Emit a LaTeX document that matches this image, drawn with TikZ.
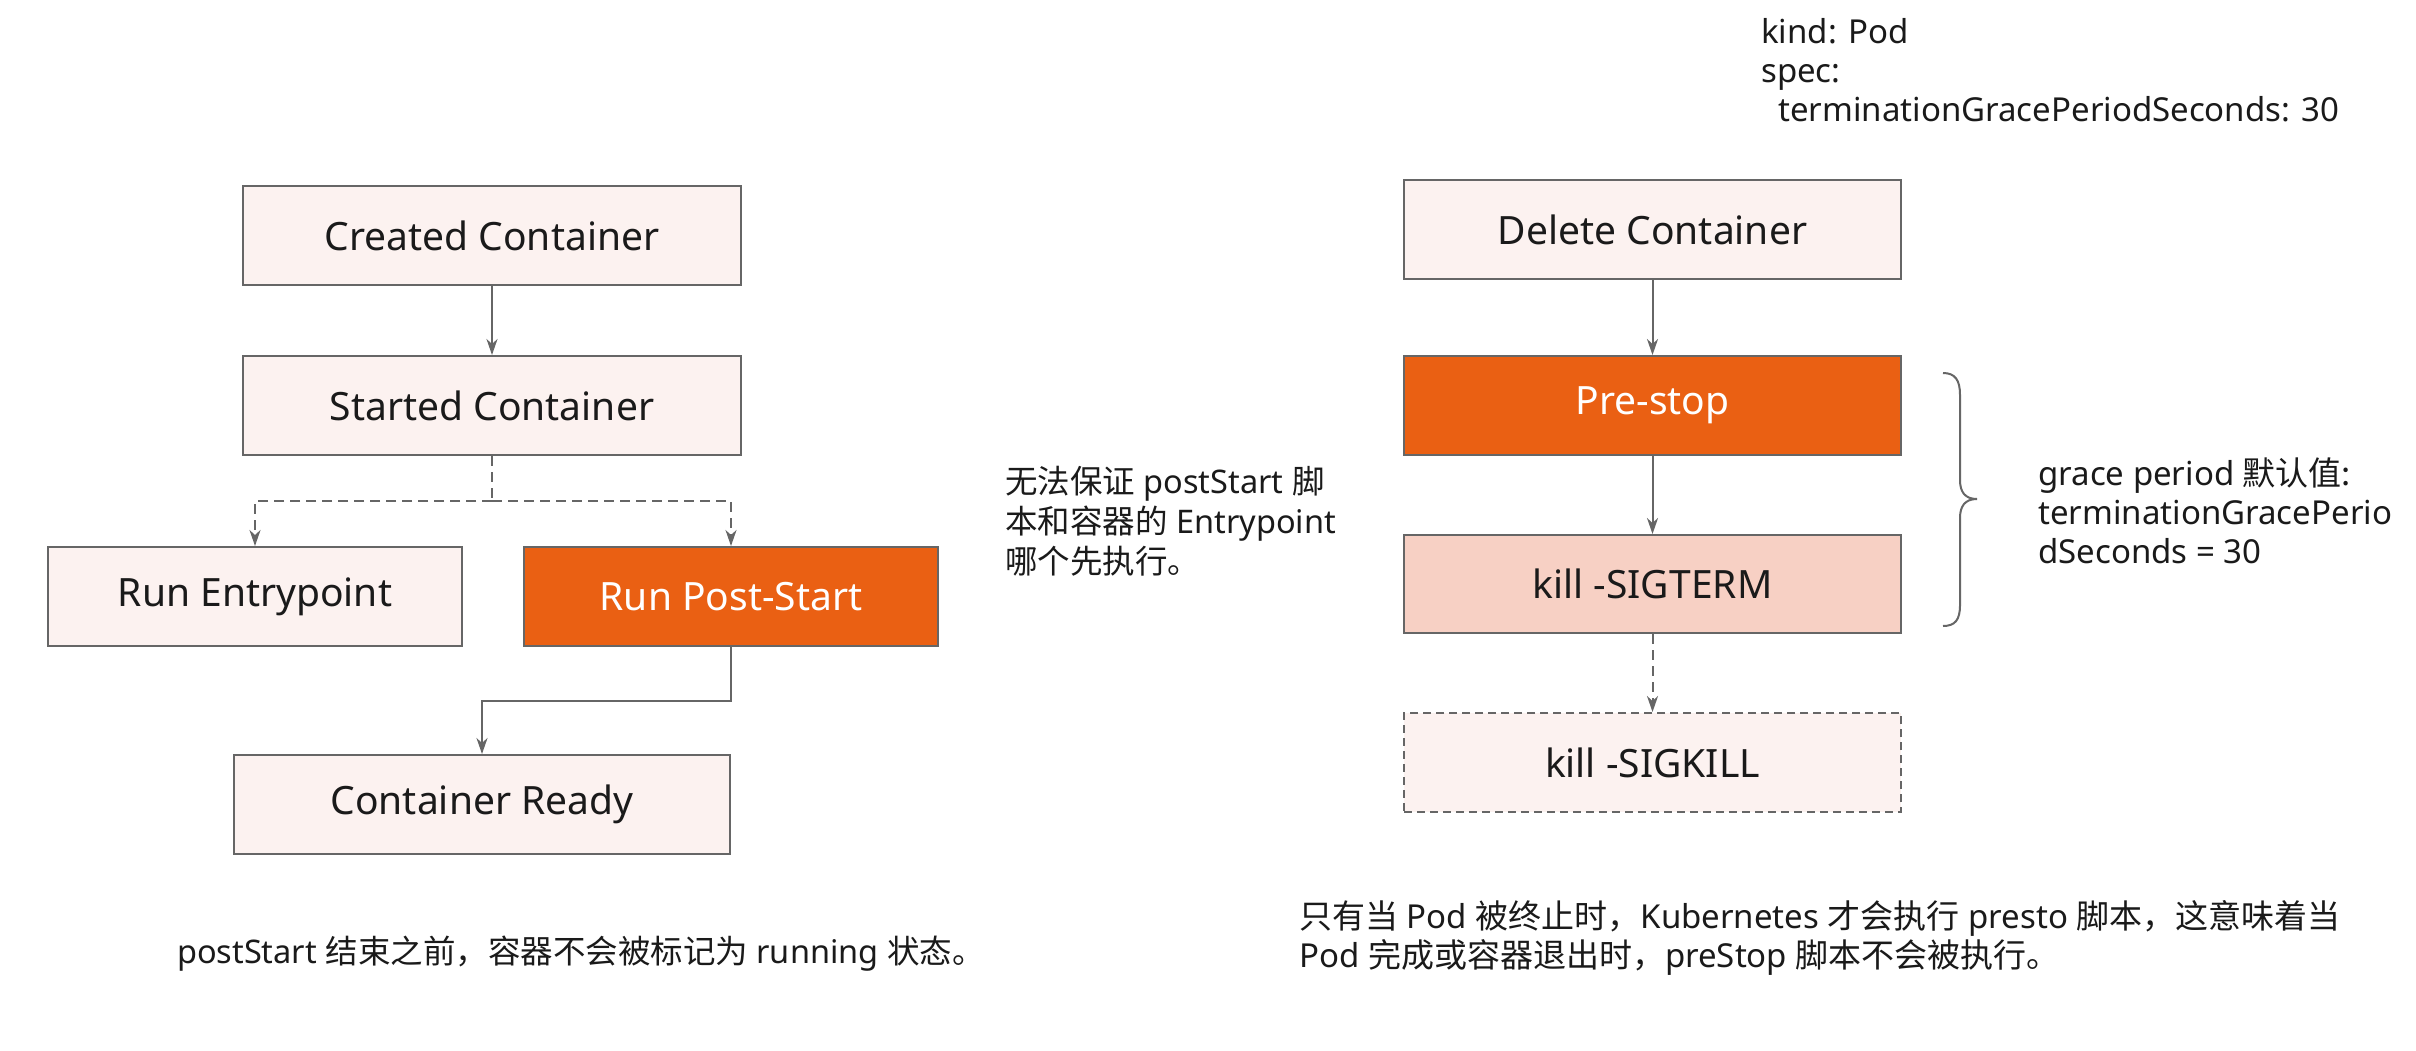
\documentclass[tikz,border=0pt]{standalone}
\usepackage{fontspec}
\setmainfont{Noto Sans}
\newfontfamily\cjk{Noto Sans CJK SC}
\usetikzlibrary{arrows.meta}
\newcommand\zh[1]{{\cjk #1}}
\definecolor{boxfill}{RGB}{252,242,240}
\definecolor{orangefill}{RGB}{234,96,19}
\definecolor{salmon}{RGB}{247,208,196}
\definecolor{edge}{RGB}{102,102,102}
\definecolor{txt}{RGB}{26,26,26}
\begin{document}
\begin{tikzpicture}[x=1pt,y=-1pt,
 box/.style={draw=edge, line width=2pt, fill=boxfill, minimum height=99pt, inner sep=0pt, font=\fontsize{39}{45}\selectfont, text=txt},
 hot/.style={box, fill=orangefill, text=white},
 conn/.style={draw=edge, line width=2pt, -{Stealth[length=16pt,width=11pt,inset=5pt]}},
 dashconn/.style={conn, dash pattern=on 10pt off 6pt},
 note/.style={font=\fontsize{32.5}{40}\selectfont, text=txt, align=left, inner sep=0pt, anchor=west}
]
\useasboundingbox (0,0) rectangle (2416,1050);
\fill[white] (0,0) rectangle (2416,1050);

% left flow
\node[box, minimum width=498pt] (created) at (492,235.5) {Created Container};
\node[box, minimum width=498pt] (started) at (492,405.5) {Started Container};
\node[box, minimum width=414pt] (entry) at (255,596.5) {Run Entrypoint};
\node[hot, minimum width=414pt] (post) at (731,596.5) {Run Post-Start};
\node[box, minimum width=496pt] (ready) at (482,804.5) {Container Ready};

\coordinate (split) at (492,501);
\coordinate (bend) at (731,701);
\draw[conn] (created) -- (started);
\draw[draw=edge, line width=2pt, dash pattern=on 10pt off 6pt] (started.south) -- (split);
\draw[dashconn] (split) -| (entry.north);
\draw[dashconn] (split) -| (post.north);
\draw[conn] (post.south) -- (bend) -| (ready.north);

% right flow
\node[box, minimum width=497pt] (delete) at (1652.5,229.5) {Delete Container};
\node[hot, minimum width=497pt] (prestop) at (1652.5,405.5) {Pre-stop};
\node[box, fill=salmon, minimum width=497pt, minimum height=98pt] (sigterm) at (1652.5,584) {kill -SIGTERM};
\node[box, dash pattern=on 8pt off 5pt, minimum width=497pt] (sigkill) at (1652.5,762.5) {kill -SIGKILL};

\draw[conn] (delete) -- (prestop);
\draw[conn] (prestop) -- (sigterm);
\draw[dashconn] (sigterm) -- (sigkill);

% brace
\draw[edge, line width=2pt] (1943,373) .. controls (1955,373) and (1960,380) .. (1960,395)
  -- (1960,480) .. controls (1960,492) and (1965,499) .. (1977,499)
  .. controls (1965,499) and (1960,506) .. (1960,518)
  -- (1960,605) .. controls (1960,620) and (1955,626) .. (1943,626);

% texts
\node[note, font=\fontsize{33}{39}\selectfont] (kind) at (1761,70) {kind: Pod\\spec:\\\hspace*{17pt}terminationGracePeriodSeconds: 30};
\node[note] (why) at (1005,521) {\zh{无法保证} postStart \zh{脚}\\\zh{本和容器的} Entrypoint\\\zh{哪个先执行。}};
\node[note, font=\fontsize{33}{39}\selectfont] (grace) at (2038,511) {grace period \zh{默认值:}\\terminationGracePerio\\dSeconds = 30};
\node[note] (leftnote) at (177,954) {postStart \zh{结束之前，容器不会被标记为} running \zh{状态。}};
\node[note, font=\fontsize{33}{39}\selectfont] (rightnote) at (1299,937.5) {\zh{只有当} Pod \zh{被终止时，}Kubernetes \zh{才会执行} presto \zh{脚本，这意味着当}\\Pod \zh{完成或容器退出时，}preStop \zh{脚本不会被执行。}};
\end{tikzpicture}
\end{document}
